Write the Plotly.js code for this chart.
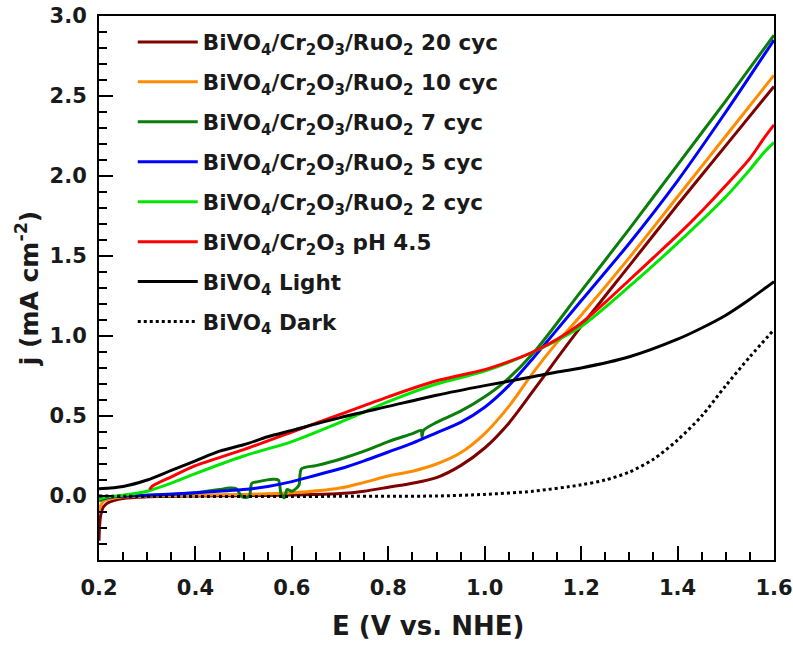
<!DOCTYPE html>
<html>
<head>
<meta charset="utf-8">
<script src="https://cdn.plot.ly/plotly-3.0.1.min.js"></script>
<style>html,body{margin:0;padding:0;background:#fff;}#chart{width:793px;height:645px;}</style>
</head>
<body>
<div id="chart"></div>
<script>
// ---- data ----
const names = [
  "BiVO<sub>4</sub>/Cr<sub>2</sub>O<sub>3</sub>/RuO<sub>2</sub> 20 cyc",
  "BiVO<sub>4</sub>/Cr<sub>2</sub>O<sub>3</sub>/RuO<sub>2</sub> 10 cyc",
  "BiVO<sub>4</sub>/Cr<sub>2</sub>O<sub>3</sub>/RuO<sub>2</sub> 7 cyc",
  "BiVO<sub>4</sub>/Cr<sub>2</sub>O<sub>3</sub>/RuO<sub>2</sub> 5 cyc",
  "BiVO<sub>4</sub>/Cr<sub>2</sub>O<sub>3</sub>/RuO<sub>2</sub> 2 cyc",
  "BiVO<sub>4</sub>/Cr<sub>2</sub>O<sub>3</sub> pH 4.5",
  "BiVO<sub>4</sub> Light",
  "BiVO<sub>4</sub> Dark"
];
const colors = ["#7f0000", "#ff8c00", "#0a7d0a", "#0000ff", "#00e600", "#ff0000", "#000000", "#000000"];

const E20 = [0.2, 0.201, 0.203, 0.206, 0.21, 0.22, 0.25, 0.3, 0.4, 0.5, 0.6, 0.7, 0.75, 0.8, 0.85, 0.9, 0.95, 1.0, 1.05, 1.1, 1.15, 1.2, 1.3, 1.4, 1.5, 1.6];
const J20 = [-0.28, -0.2, -0.13, -0.09, -0.065, -0.04, -0.015, -0.005, 0.0, 0.002, 0.006, 0.015, 0.03, 0.055, 0.08, 0.115, 0.19, 0.30, 0.455, 0.655, 0.86, 1.06, 1.44, 1.82, 2.19, 2.56];

const E10 = [0.2, 0.202, 0.205, 0.21, 0.22, 0.25, 0.3, 0.4, 0.5, 0.6, 0.7, 0.75, 0.8, 0.85, 0.9, 0.95, 1.0, 1.05, 1.1, 1.15, 1.2, 1.3, 1.4, 1.5, 1.6];
const J10 = [-0.1, -0.07, -0.05, -0.03, -0.02, -0.005, 0.0, 0.005, 0.01, 0.02, 0.05, 0.085, 0.125, 0.155, 0.20, 0.27, 0.39, 0.56, 0.77, 0.96, 1.13, 1.49, 1.87, 2.25, 2.63];

const E7 = [0.2, 0.22, 0.25, 0.3, 0.35, 0.4, 0.45, 0.47, 0.485, 0.495, 0.505, 0.512, 0.517, 0.53, 0.56, 0.572, 0.578, 0.585, 0.59, 0.60, 0.61, 0.615, 0.62, 0.65, 0.7, 0.75, 0.8, 0.85, 0.868, 0.87, 0.873, 0.9, 0.95, 1.0, 1.04, 1.1, 1.2, 1.3, 1.4, 1.5, 1.6];
const J7 = [-0.03, -0.01, 0.0, 0.005, 0.01, 0.02, 0.04, 0.05, 0.045, 0.0, -0.01, 0.0, 0.08, 0.09, 0.105, 0.10, 0.01, -0.01, 0.04, 0.03, 0.05, 0.07, 0.17, 0.19, 0.23, 0.28, 0.34, 0.39, 0.41, 0.37, 0.41, 0.46, 0.53, 0.62, 0.71, 0.89, 1.28, 1.67, 2.07, 2.47, 2.88];

const E5 = [0.2, 0.22, 0.25, 0.3, 0.4, 0.5, 0.55, 0.6, 0.65, 0.7, 0.75, 0.8, 0.85, 0.9, 0.95, 1.0, 1.05, 1.1, 1.15, 1.2, 1.3, 1.4, 1.5, 1.6];
const J5 = [-0.02, -0.008, 0.0, 0.005, 0.02, 0.04, 0.06, 0.09, 0.13, 0.17, 0.22, 0.275, 0.33, 0.395, 0.46, 0.555, 0.69, 0.86, 1.04, 1.22, 1.58, 1.97, 2.40, 2.85];

const E2 = [0.2, 0.22, 0.25, 0.3, 0.35, 0.4, 0.5, 0.6, 0.7, 0.8, 0.9, 1.0, 1.1, 1.2, 1.3, 1.4, 1.5, 1.55, 1.58, 1.6];
const J2 = [-0.02, -0.005, 0.005, 0.03, 0.08, 0.14, 0.25, 0.34, 0.46, 0.59, 0.70, 0.78, 0.90, 1.06, 1.31, 1.58, 1.87, 2.04, 2.15, 2.21];

const ECr = [0.305, 0.31, 0.35, 0.4, 0.5, 0.6, 0.7, 0.8, 0.9, 1.0, 1.05, 1.1, 1.15, 1.2, 1.25, 1.3, 1.35, 1.4, 1.45, 1.5, 1.55, 1.58, 1.6];
const JCr = [0.04, 0.06, 0.12, 0.19, 0.29, 0.40, 0.51, 0.62, 0.72, 0.79, 0.84, 0.90, 0.98, 1.08, 1.21, 1.35, 1.49, 1.63, 1.78, 1.94, 2.11, 2.24, 2.32];

const ELight = [0.2, 0.25, 0.3, 0.35, 0.4, 0.45, 0.5, 0.55, 0.6, 0.7, 0.8, 0.9, 1.0, 1.1, 1.15, 1.2, 1.3, 1.4, 1.45, 1.5, 1.55, 1.6];
const JLight = [0.045, 0.06, 0.10, 0.16, 0.22, 0.28, 0.32, 0.37, 0.41, 0.49, 0.56, 0.63, 0.69, 0.745, 0.775, 0.80, 0.87, 0.98, 1.05, 1.13, 1.23, 1.34];

const EDark = [0.2, 0.3, 0.4, 0.5, 0.6, 0.7, 0.8, 0.9, 1.0, 1.1, 1.2, 1.25, 1.3, 1.35, 1.4, 1.45, 1.5, 1.55, 1.6];
const JDark = [0.0, -0.003, -0.003, -0.003, -0.003, -0.002, -0.001, 0.0, 0.01, 0.03, 0.07, 0.10, 0.15, 0.23, 0.35, 0.50, 0.69, 0.87, 1.04];

const xs = [E20, E10, E7, E5, E2, ECr, ELight, EDark];
const ys = [J20, J10, J7, J5, J2, JCr, JLight, JDark];

const xTicks = [0.2, 0.4, 0.6, 0.8, 1.0, 1.2, 1.4, 1.6];
const xTickText = ["0.2", "0.4", "0.6", "0.8", "1.0", "1.2", "1.4", "1.6"];
const yTicks = [0.0, 0.5, 1.0, 1.5, 2.0, 2.5, 3.0];
const yTickText = ["0.0", "0.5", "1.0", "1.5", "2.0", "2.5", "3.0"];
const xTitle = "E (V vs. NHE)";
const yTitle = "j (mA cm<sup>-2</sup>)";

const FONT = "DejaVu Sans, Verdana, sans-serif";
const TXT = "#1a1a1a";

const traces = xs.map((x, i) => ({
  x: x, y: ys[i], name: names[i], type: "scatter", mode: "lines",
  line: {color: colors[i], width: 3, dash: i === 7 ? "dot" : "solid", shape: "spline", smoothing: 0.8},
  legendgroup: "g" + i
}));

const layout = {
  width: 793, height: 645,
  margin: {l: 99, r: 19, t: 16, b: 85},
  paper_bgcolor: "#fff", plot_bgcolor: "#fff",
  font: {family: FONT, color: TXT, size: 20, weight: 700},
  showlegend: true,
  legend: {
    x: 0.05, y: 0.99, xanchor: "left", yanchor: "top",
    bgcolor: "rgba(0,0,0,0)", borderwidth: 0,
    font: {family: FONT, size: 21.5, color: TXT, weight: 700},
    traceorder: "grouped", tracegroupgap: 9, itemwidth: 60
  },
  xaxis: {
    range: [0.2, 1.6], tickmode: "array", tickvals: xTicks, ticktext: xTickText,
    ticks: "inside", ticklen: 14, tickwidth: 2, tickcolor: "#000",
    minor: {dtick: 0.05, ticks: "inside", ticklen: 8, tickwidth: 2, tickcolor: "#000"},
    showline: true, linewidth: 2, linecolor: "#000", mirror: true,
    showgrid: false, zeroline: false, ticklabelstandoff: 8,
    tickfont: {family: FONT, size: 21, weight: 700, color: TXT}
  },
  yaxis: {
    range: [-0.4, 3.0], tickmode: "array", tickvals: yTicks, ticktext: yTickText,
    ticks: "inside", ticklen: 14, tickwidth: 2, tickcolor: "#000",
    minor: {dtick: 0.1, ticks: "inside", ticklen: 8, tickwidth: 2, tickcolor: "#000"},
    showline: true, linewidth: 2, linecolor: "#000", mirror: true,
    showgrid: false, zeroline: false, ticklabelstandoff: 6,
    tickfont: {family: FONT, size: 21, weight: 700, color: TXT},
    title: {text: yTitle, font: {family: FONT, size: 25, weight: 700, color: TXT}, standoff: 4}
  },
  annotations: [{
    text: xTitle, xref: "paper", yref: "paper", x: 0.4867, y: -0.1215,
    xanchor: "center", yanchor: "middle", showarrow: false,
    font: {family: FONT, size: 26, weight: 700, color: TXT}
  }]
};

Plotly.newPlot("chart", traces, layout, {displayModeBar: false, staticPlot: true});
</script>
</body>
</html>
